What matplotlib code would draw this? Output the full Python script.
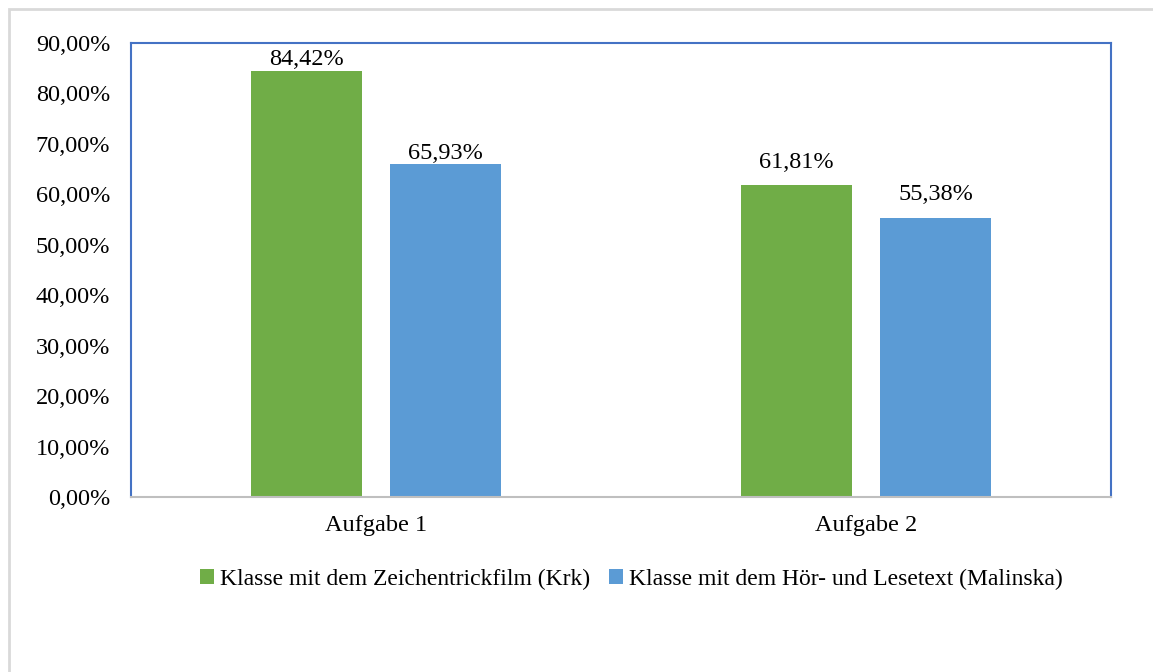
import matplotlib
matplotlib.use("Agg")
import matplotlib.pyplot as plt
import numpy as np
from matplotlib.patches import Rectangle

# Daten
categories = ["Aufgabe 1", "Aufgabe 2"]
series_names = ["Klasse mit dem Zeichentrickfilm (Krk)",
                "Klasse mit dem Hör- und Lesetext (Malinska)"]
krk = [84.42, 61.81]
malinska = [65.93, 55.38]
yticks = [0, 10, 20, 30, 40, 50, 60, 70, 80, 90]

green = "#70AD47"
blue = "#5B9BD5"

plt.rcParams["font.family"] = ["Liberation Serif", "DejaVu Serif"]
fs = 17.5

fig = plt.figure(figsize=(11.53, 6.72), dpi=100)
# heller Rahmen um das Diagramm
fig.patches.append(Rectangle((9 / 1153, -0.01), 1.0, 1 - 9 / 672 + 0.01,
                             transform=fig.transFigure, fill=False,
                             edgecolor="#D9D9D9", linewidth=2))

ax = fig.add_axes([131 / 1153, 1 - 497 / 672, 980 / 1153, 454 / 672])

x = np.arange(len(categories))
w = 0.2265
off = 0.1425
b1 = ax.bar(x - off, krk, w, color=green, label=series_names[0], zorder=2)
b2 = ax.bar(x + off, malinska, w, color=blue, label=series_names[1], zorder=2)

def fmt(v):
    return f"{v:.2f}%".replace(".", ",")

# Abstand der Beschriftungen (Punkte)
pads = [[0.5, 0], [9, 9]]
for i, (a, b) in enumerate(zip(krk, malinska)):
    ax.annotate(fmt(a), (x[i] - off, a), xytext=(0, pads[i][0]), textcoords="offset points",
                ha="center", va="bottom", fontsize=fs)
    ax.annotate(fmt(b), (x[i] + off, b), xytext=(0, pads[i][1]), textcoords="offset points",
                ha="center", va="bottom", fontsize=fs)

ax.set_xlim(-0.5, 1.5)
ax.set_ylim(0, 90)
ax.set_yticks(yticks)
ax.set_yticklabels([f"{t:.2f}%".replace(".", ",") for t in yticks], fontsize=fs)
ax.set_xticks(x)
ax.set_xticklabels(categories, fontsize=fs)
ax.tick_params(axis="both", length=0)
ax.tick_params(axis="y", pad=15)
ax.tick_params(axis="x", pad=13)

for s in ["left", "top", "right"]:
    ax.spines[s].set_color("#4472C4")
    ax.spines[s].set_linewidth(1.5)
ax.spines["bottom"].set_color("#BFBFBF")
ax.spines["bottom"].set_linewidth(1.5)

fig.legend(handles=[b1, b2], loc="center", bbox_to_anchor=(631 / 1153, 1 - 579 / 672),
           ncol=2, frameon=False, fontsize=17, handlelength=0.6, handleheight=0.6,
           handletextpad=0.25, columnspacing=0.8)

fig.savefig("out.png", dpi=100)
